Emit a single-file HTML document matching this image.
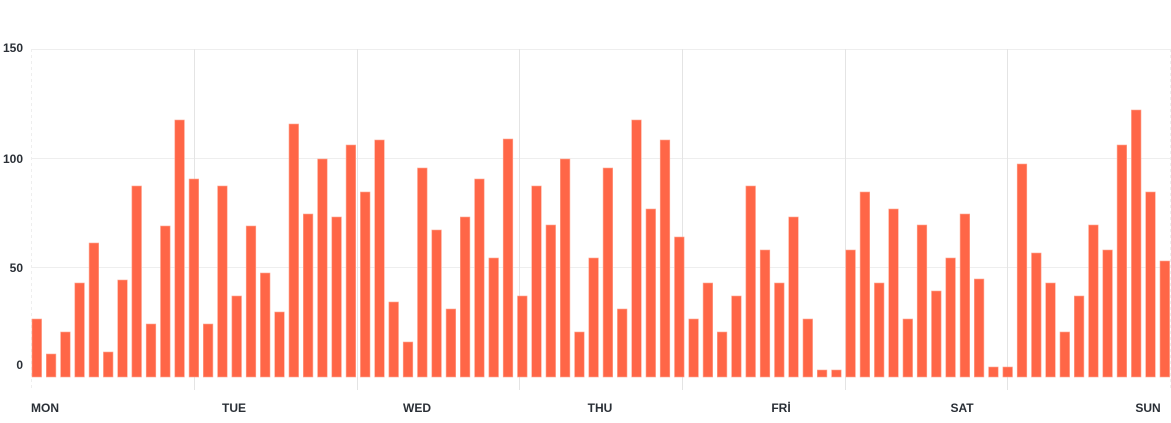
<!DOCTYPE html>
<html><head><style>
html,body{margin:0;padding:0;background:#fff;}
svg{display:block;font-family:"Liberation Sans",sans-serif;}
</style></head><body>
<svg width="1171" height="423" viewBox="0 0 1171 423" xmlns="http://www.w3.org/2000/svg">
<g stroke="#eeeeee" stroke-width="1">
<line x1="32" y1="49.5" x2="1171" y2="49.5"/>
<line x1="32" y1="158.5" x2="1171" y2="158.5"/>
<line x1="32" y1="267.5" x2="1171" y2="267.5"/>
</g>
<g stroke="#e4e4e4" stroke-width="1">
<line x1="194.5" y1="49" x2="194.5" y2="390"/>
<line x1="357.5" y1="49" x2="357.5" y2="390"/>
<line x1="519.5" y1="49" x2="519.5" y2="390"/>
<line x1="682.5" y1="49" x2="682.5" y2="390"/>
<line x1="845.5" y1="49" x2="845.5" y2="390"/>
<line x1="1007.5" y1="49" x2="1007.5" y2="390"/>
</g>
<line x1="31.5" y1="49" x2="31.5" y2="390" stroke="#eeeeee" stroke-dasharray="3,3"/>
<line x1="1170.5" y1="49" x2="1170.5" y2="390" stroke="#eeeeee" stroke-dasharray="3,3"/>
<g font-size="12" fill="#2a2f36" font-weight="bold" text-anchor="end">
<text x="23" y="52">150</text>
<text x="23" y="163">100</text>
<text x="23" y="272">50</text>
<text x="23" y="369">0</text>
</g>
<g font-size="12" fill="#2a2f36" font-weight="bold" text-anchor="middle">
<text x="45" y="412">MON</text>
<text x="234" y="412">TUE</text>
<text x="417" y="412">WED</text>
<text x="600" y="412">THU</text>
<text x="781" y="412">FRİ</text>
<text x="962" y="412">SAT</text>
<text x="1148" y="412">SUN</text>
</g>
<g fill="#ff6647" stroke="#ffa590" stroke-width="0.6">
<rect x="32.0" y="319" width="9.6" height="58"/>
<rect x="46.3" y="354" width="9.6" height="23"/>
<rect x="60.6" y="332" width="9.6" height="45"/>
<rect x="74.8" y="283" width="9.6" height="94"/>
<rect x="89.1" y="243" width="9.6" height="134"/>
<rect x="103.4" y="352" width="9.6" height="25"/>
<rect x="117.7" y="280" width="9.6" height="97"/>
<rect x="131.9" y="186" width="9.6" height="191"/>
<rect x="146.2" y="324" width="9.6" height="53"/>
<rect x="160.5" y="226" width="9.6" height="151"/>
<rect x="174.8" y="120" width="9.6" height="257"/>
<rect x="189.1" y="179" width="9.6" height="198"/>
<rect x="203.3" y="324" width="9.6" height="53"/>
<rect x="217.6" y="186" width="9.6" height="191"/>
<rect x="231.9" y="296" width="9.6" height="81"/>
<rect x="246.2" y="226" width="9.6" height="151"/>
<rect x="260.4" y="273" width="9.6" height="104"/>
<rect x="274.7" y="312" width="9.6" height="65"/>
<rect x="289.0" y="124" width="9.6" height="253"/>
<rect x="303.3" y="214" width="9.6" height="163"/>
<rect x="317.6" y="159" width="9.6" height="218"/>
<rect x="331.8" y="217" width="9.6" height="160"/>
<rect x="346.1" y="145" width="9.6" height="232"/>
<rect x="360.4" y="192" width="9.6" height="185"/>
<rect x="374.7" y="140" width="9.6" height="237"/>
<rect x="388.9" y="302" width="9.6" height="75"/>
<rect x="403.2" y="342" width="9.6" height="35"/>
<rect x="417.5" y="168" width="9.6" height="209"/>
<rect x="431.8" y="230" width="9.6" height="147"/>
<rect x="446.1" y="309" width="9.6" height="68"/>
<rect x="460.3" y="217" width="9.6" height="160"/>
<rect x="474.6" y="179" width="9.6" height="198"/>
<rect x="488.9" y="258" width="9.6" height="119"/>
<rect x="503.2" y="139" width="9.6" height="238"/>
<rect x="517.5" y="296" width="9.6" height="81"/>
<rect x="531.7" y="186" width="9.6" height="191"/>
<rect x="546.0" y="225" width="9.6" height="152"/>
<rect x="560.3" y="159" width="9.6" height="218"/>
<rect x="574.6" y="332" width="9.6" height="45"/>
<rect x="588.8" y="258" width="9.6" height="119"/>
<rect x="603.1" y="168" width="9.6" height="209"/>
<rect x="617.4" y="309" width="9.6" height="68"/>
<rect x="631.7" y="120" width="9.6" height="257"/>
<rect x="646.0" y="209" width="9.6" height="168"/>
<rect x="660.2" y="140" width="9.6" height="237"/>
<rect x="674.5" y="237" width="9.6" height="140"/>
<rect x="688.8" y="319" width="9.6" height="58"/>
<rect x="703.1" y="283" width="9.6" height="94"/>
<rect x="717.3" y="332" width="9.6" height="45"/>
<rect x="731.6" y="296" width="9.6" height="81"/>
<rect x="745.9" y="186" width="9.6" height="191"/>
<rect x="760.2" y="250" width="9.6" height="127"/>
<rect x="774.5" y="283" width="9.6" height="94"/>
<rect x="788.7" y="217" width="9.6" height="160"/>
<rect x="803.0" y="319" width="9.6" height="58"/>
<rect x="817.3" y="370" width="9.6" height="7"/>
<rect x="831.6" y="370" width="9.6" height="7"/>
<rect x="845.8" y="250" width="9.6" height="127"/>
<rect x="860.1" y="192" width="9.6" height="185"/>
<rect x="874.4" y="283" width="9.6" height="94"/>
<rect x="888.7" y="209" width="9.6" height="168"/>
<rect x="903.0" y="319" width="9.6" height="58"/>
<rect x="917.2" y="225" width="9.6" height="152"/>
<rect x="931.5" y="291" width="9.6" height="86"/>
<rect x="945.8" y="258" width="9.6" height="119"/>
<rect x="960.1" y="214" width="9.6" height="163"/>
<rect x="974.3" y="279" width="9.6" height="98"/>
<rect x="988.6" y="367" width="9.6" height="10"/>
<rect x="1002.9" y="367" width="9.6" height="10"/>
<rect x="1017.2" y="164" width="9.6" height="213"/>
<rect x="1031.5" y="253" width="9.6" height="124"/>
<rect x="1045.7" y="283" width="9.6" height="94"/>
<rect x="1060.0" y="332" width="9.6" height="45"/>
<rect x="1074.3" y="296" width="9.6" height="81"/>
<rect x="1088.6" y="225" width="9.6" height="152"/>
<rect x="1102.8" y="250" width="9.6" height="127"/>
<rect x="1117.1" y="145" width="9.6" height="232"/>
<rect x="1131.4" y="110" width="9.6" height="267"/>
<rect x="1145.7" y="192" width="9.6" height="185"/>
<rect x="1160.0" y="261" width="9.6" height="116"/>
</g>
</svg>
</body></html>
